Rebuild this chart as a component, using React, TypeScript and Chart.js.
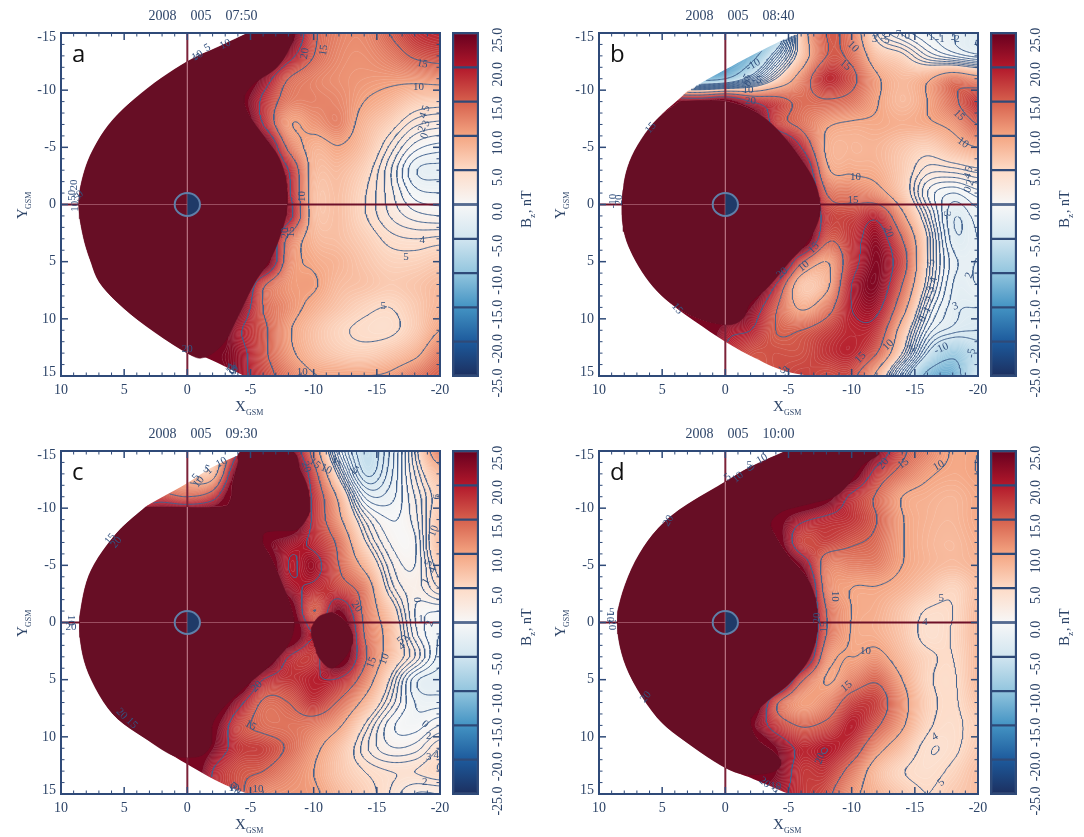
import React, { useEffect, useRef } from "react";
import { Chart, registerables } from "chart.js";
Chart.register(...registerables);

const NAVY = "#2d4468";
const FRAME = "#2f4a78";
const LINE = "#42638f";
const DARK = "rgb(103,14,37)";

// Grid of the field, columns left to right, rows top to bottom
const gridX = [10, 8, 6, 4, 2, 0, -2, -4, -6, -8, -10, -12, -14, -16, -18, -20];
const gridY = [-15, -13, -11, -9, -7, -5, -3, -1, 1, 3, 5, 7, 9, 11, 13, 15];
const contourLevels = [-20, -15, -10, -5, -4, -3, -2, -1, 0, 1, 2, 3, 4, 5, 10, 15, 20];
const colorStops = [-25, -20, -15, -10, -5, 0, 5, 10, 15, 20, 25];
const colorRamp = ["#1c2f5f", "#1d5a9c", "#4393c3", "#92c5de", "#d1e5f0", "#f7f7f7", "#fddbc7", "#f4a582", "#d6604d", "#b2182b", "#67001f"];
const barBands = [[20, 25], [15, 20], [10, 15], [5, 10], [0, 5], [-5, 0], [-10, -5], [-15, -10], [-20, -15], [-25, -20]];

const bzA = [
  [30, 30, 30, 30, 30, 30, 30, 30, 30, 27, 16, 12.5, 12, 15, 18, 19],
  [30, 30, 30, 30, 30, 30, 30, 30, 30, 22, 15, 12, 11.5, 13, 15.5, 16.5],
  [30, 30, 30, 30, 30, 30, 30, 30, 23, 15, 12.5, 11.5, 11, 10.8, 11, 11.5],
  [30, 30, 30, 30, 30, 30, 30, 27, 19, 13, 12.5, 12, 10, 8.5, 6.5, 6],
  [30, 30, 30, 30, 30, 30, 30, 30, 20, 10.5, 11, 12.3, 8.5, 6, 3.3, 2.5],
  [30, 30, 30, 30, 30, 30, 30, 30, 28, 14, 8.8, 9.8, 7.5, 3.8, 0.5, -0.5],
  [30, 30, 30, 30, 30, 30, 30, 30, 30, 20, 8.5, 8, 6, 2.3, -1.8, -2.3],
  [30, 30, 30, 30, 30, 30, 30, 30, 30, 21, 8, 7.5, 5.2, 2.5, -0.5, -1],
  [30, 30, 30, 30, 30, 30, 30, 30, 30, 22, 8.2, 7.5, 5.2, 3, 1.5, 1],
  [30, 30, 30, 30, 30, 30, 30, 30, 28, 14, 8.5, 7.6, 6.2, 4.5, 4, 4.3],
  [30, 30, 30, 30, 30, 30, 30, 30, 28, 12.5, 9.5, 8.5, 7, 5.8, 5.8, 6.5],
  [30, 30, 30, 30, 30, 30, 30, 29, 16, 11, 10.3, 8, 7.3, 6.5, 7, 8],
  [30, 30, 30, 30, 30, 30, 30, 25, 15, 11.5, 9, 7, 5.6, 5, 6.5, 8.5],
  [30, 30, 30, 30, 30, 30, 30, 21, 16, 10.5, 7.5, 5.5, 4.6, 4.5, 6.5, 10],
  [30, 30, 30, 30, 30, 30, 25, 22, 16, 11, 8, 6.5, 6, 7, 9, 13],
  [30, 30, 30, 30, 30, 30, 26, 22, 17, 13, 10.2, 10, 10, 10.5, 13, 15],
];
const bzB = [
  [-15, -15, -15, -15, -15, -15, -15, -10, 7, 15, 13, 4, 0.8, -1, -2, -3],
  [-15, -15, -15, -15, -14, -14, -12, -3, 7, 15, 14, 7.5, 5.5, 2, 0, -1.5],
  [-12, -12, -12, -12, -12, -10, -3, 5, 12, 18.5, 16, 10.5, 8, 9.5, 13, 11.5],
  [30, 30, 30, 25, 24, 26, 20, 17, 14, 14.5, 13.5, 10.2, 8, 10, 14, 18],
  [30, 30, 30, 30, 30, 30, 30, 18, 14, 10.5, 9.5, 9.5, 9, 9.5, 11, 15],
  [30, 30, 30, 30, 30, 30, 30, 30, 20, 9.5, 8.5, 8.5, 7, 6, 8, 10],
  [30, 30, 30, 30, 30, 30, 30, 30, 27, 11, 9.5, 9, 6.5, 3.5, 3.5, 4.5],
  [30, 30, 30, 30, 30, 30, 30, 30, 30, 15, 13, 11.5, 7, 1, -1, 0.5],
  [30, 30, 30, 30, 30, 30, 30, 30, 30, 18, 17, 19, 11, 3, -2.8, -1.5],
  [30, 30, 30, 30, 30, 30, 30, 30, 30, 16, 18, 22, 15, 5, -2.5, -2],
  [30, 30, 30, 30, 30, 30, 30, 30, 16, 10, 18, 23, 17, 5, -1.5, -2],
  [30, 30, 30, 30, 30, 30, 30, 20, 7.5, 9, 20, 23, 15, 4, -2, -2],
  [30, 30, 30, 30, 30, 30, 24, 15.5, 9.5, 13, 20, 21, 12, 1.5, -2.5, -3],
  [30, 30, 30, 30, 30, 22, 20, 15, 15, 17, 19, 18, 8, -1, -3.5, -4],
  [30, 30, 30, 30, 30, 20, 16, 16, 16, 18, 19, 15, 5, -5, -9, -6],
  [30, 30, 30, 30, 30, 20, 16, 16, 17, 16, 16, 9, -2, -11, -12, -5],
];
const bzC = [
  [30, 30, 30, 30, 10, 5, 5, 20, 30, 26, 13, 0, -6, -3, 4, 13],
  [30, 30, 30, 30, 10, 8, 8, 26, 30, 30, 17, 4, -5, -2.5, 3, 8],
  [30, 30, 30, 18, 17, 15, 18, 30, 30, 30, 19, 9, -1, -1.5, 2, 6],
  [30, 30, 30, 30, 30, 30, 30, 30, 30, 30, 19, 11, 3, 0, 1.5, 7],
  [30, 30, 30, 30, 30, 30, 30, 30, 25, 22, 19, 14, 5.5, 1, 0.8, 8],
  [30, 30, 30, 30, 30, 30, 30, 30, 30, 20, 21.5, 15, 9, 2.5, 1, 6],
  [30, 30, 30, 30, 30, 30, 30, 30, 30, 22, 19, 17, 13, 4, 1.5, 4],
  [30, 30, 30, 30, 30, 30, 30, 30, 30, 28, 15, 24, 14, 7, 1, 0],
  [30, 30, 30, 30, 30, 30, 30, 30, 30, 30, 20, 30, 15, 8.5, 1.5, -1],
  [30, 30, 30, 30, 30, 30, 30, 30, 30, 20, 18, 28, 16, 8, 3, -1.5],
  [30, 30, 30, 30, 30, 30, 30, 30, 20, 18, 19.5, 19.5, 13, 5, -1.5, -2.5],
  [30, 30, 30, 30, 30, 30, 30, 22, 14.5, 15, 18, 14.5, 9, 3, -1, -1.5],
  [30, 30, 30, 30, 30, 30, 26, 17, 14, 13.5, 13, 10.5, 5, 0.5, -0.5, 1],
  [30, 30, 30, 30, 30, 30, 24, 18, 17, 14.5, 11, 7.5, 3.5, 1.2, 1.5, 4],
  [30, 30, 30, 30, 30, 30, 20, 16, 15, 12.5, 10, 7, 5, 4, 4, 5],
  [30, 30, 30, 30, 30, 30, 20, 16, 12, 11, 10.5, 8, 6, 4, 2, 2],
];
const bzD = [
  [30, 30, 30, 30, 30, 30, 30, 30, 30, 30, 30, 24, 16, 12.5, 9.8, 10],
  [30, 30, 30, 30, 30, 30, 30, 30, 30, 30, 27, 18, 13.5, 10.5, 9.5, 10],
  [30, 30, 30, 30, 30, 30, 30, 30, 30, 26, 19, 14.5, 10, 9, 8.5, 9.5],
  [30, 30, 30, 30, 30, 30, 30, 26, 21, 19, 18, 15, 10.2, 8.7, 8.3, 9.5],
  [30, 30, 30, 30, 30, 30, 30, 27, 17, 17, 15.5, 14, 10.2, 8.5, 8, 9],
  [30, 30, 30, 30, 30, 30, 30, 30, 24, 13, 12.5, 12.5, 10, 8.5, 7.8, 8.5],
  [30, 30, 30, 30, 30, 30, 30, 30, 30, 13, 10, 9.8, 8.7, 7, 5.5, 7.5],
  [30, 30, 30, 30, 30, 30, 30, 30, 30, 15, 10, 9, 7, 4.8, 5, 8],
  [30, 30, 30, 30, 30, 30, 30, 30, 30, 15, 9.8, 9, 7, 4.2, 5.2, 8],
  [30, 30, 30, 30, 30, 30, 30, 30, 28, 12, 10, 11, 8, 5.5, 5, 8],
  [30, 30, 30, 30, 30, 30, 30, 30, 16, 9.8, 12.5, 14.5, 10, 5.5, 4.7, 8],
  [30, 30, 30, 30, 30, 30, 30, 16, 10.5, 12, 17, 17, 11.5, 6, 4.7, 7],
  [30, 30, 30, 30, 30, 30, 25, 18, 14.7, 16, 19.5, 15.5, 10.5, 5.5, 4.5, 6],
  [30, 30, 30, 30, 30, 30, 30, 24, 19, 20, 17.5, 11.5, 7.5, 4.2, 4.5, 6.5],
  [30, 30, 30, 30, 30, 30, 26, 24, 18, 18, 13.5, 8, 5.2, 4.3, 5.5, 7.5],
  [30, 30, 30, 30, 30, 30, 26, 22, 18, 16, 11, 8.5, 6.5, 5, 6.5, 7.5],
];

// Outer boundary of the mapped domain
const boundaryA = [[-4.8, -15], [-2.5, -13.8], [0, -12.5], [3.1, -10.2], [5.9, -7.4], [7.5, -4.7], [8.3, -2.3], [8.6, 0], [8.3, 2.5], [7.7, 4.8], [6.7, 7.2], [3.9, 10.1], [0, 13], [-1.5, 13.4], [-4.5, 15]];
const boundaryB = [[-5.7, -15], [-2.9, -13.5], [0, -11.8], [2.6, -10.2], [3.6, -9.3], [5.7, -7.1], [7.4, -4.2], [8.1, -1.3], [8.1, 1.9], [7.3, 4.5], [5.7, 7.2], [3.7, 9.2], [0, 12], [-2.3, 13.4], [-4.5, 14.5], [-6.7, 15]];
const boundaryC = [[-4.8, -15], [-2, -13.6], [0, -12.2], [2.9, -10.4], [3.3, -10.1], [5.6, -7.8], [7.6, -4.6], [8.4, -1.4], [8.5, 1.3], [7.8, 4.5], [5.9, 8], [3.1, 10.3], [0, 12.4], [-2.6, 14], [-4.8, 15]];
const boundaryD = [[-4.8, -15], [-2, -13.6], [0, -12.3], [4.3, -9.3], [6.8, -6], [8.3, -2], [8.5, 1], [7.6, 4.5], [5.4, 8.3], [2.9, 10.6], [0, 12.7], [-1.8, 13.5], [-3.1, 14.1], [-5, 15]];

// Saturated region (Bz at or above the top of the scale)
const saturatedA = [[-4.8, -15], [-8.2, -15], [-8, -13.5], [-7, -11.9], [-5.3, -10.6], [-4.5, -9.3], [-4.9, -7.8], [-6.1, -5.9], [-7.2, -4.2], [-7.8, -2.2], [-7.9, 0], [-7.6, 1.9], [-6.7, 4.5], [-5.3, 6.9], [-4, 9.8], [-2.9, 12.1], [-1.4, 13.35], [0, 13], [3.9, 10.1], [6.7, 7.2], [7.7, 4.8], [8.3, 2.5], [8.6, 0], [8.3, -2.3], [7.5, -4.7], [5.9, -7.4], [3.1, -10.2], [0, -12.5], [-2.5, -13.8], [-4.8, -15]];
const saturatedB = [[3.6, -9], [1.8, -9.1], [0, -9], [-1.8, -8.4], [-3.4, -7.3], [-4.8, -5.7], [-6.2, -3.6], [-7.1, -1.9], [-7.5, 0], [-7.3, 1.6], [-6.4, 3.4], [-5, 5.1], [-3.4, 7.2], [-2, 8.6], [-1.5, 9.8], [-0.8, 10.4], [0.2, 10.5], [1.8, 10.1], [3.7, 9.1], [5.7, 7.2], [7.3, 4.5], [8.1, 1.9], [8.1, -1.3], [7.4, -4.2], [5.7, -7.1], [3.6, -9]];
const saturatedC = [[3.3, -10.1], [1.2, -10.1], [-2.6, -10.1], [-3.4, -10.7], [-3.6, -12.2], [-4, -13.9], [-4.4, -15], [-8.2, -15], [-8.9, -13.4], [-9.5, -11.9], [-9.7, -10.1], [-9.4, -9], [-8.6, -8.1], [-7, -8], [-6.1, -7.8], [-6, -6.9], [-6.7, -5.5], [-7.5, -3.4], [-8.2, -1.4], [-8.45, 0.4], [-7.9, 2.1], [-6.4, 3.9], [-4.8, 5.4], [-2.9, 7.4], [-2, 8.9], [-1.9, 10.6], [-1.2, 11.6], [0, 11.8], [1.2, 11.6], [3.1, 10.3], [5.9, 8], [7.8, 4.5], [8.5, 1.3], [8.4, -1.4], [7.6, -4.6], [5.6, -7.8], [3.3, -10.1]];
const saturatedC2 = [[-11.45, -0.9], [-12.5, -0.1], [-13.1, 1.3], [-12.6, 2.9], [-11.45, 4], [-10.5, 3.2], [-10.1, 2.1], [-9.8, 0.7], [-10.4, -0.5], [-11.45, -0.9]];
const saturatedD = [[-4.8, -15], [-11.9, -15], [-10.8, -13.7], [-9.5, -11.8], [-8.4, -10.9], [-6.4, -10.3], [-4.5, -9.7], [-3.6, -8.7], [-4, -7.5], [-5, -5.8], [-6.4, -4], [-7.1, -2.2], [-7.3, -0.2], [-7.1, 1.8], [-6.4, 3.6], [-5, 5.4], [-3.4, 6.8], [-2.3, 8], [-2, 8.9], [-2.6, 10.3], [-4, 11.5], [-4.4, 12.4], [-3.7, 13.1], [-1.8, 13.3], [0, 12.7], [2.9, 10.6], [5.4, 8.3], [7.6, 4.5], [8.5, 1], [8.3, -2], [6.8, -6], [4.3, -9.3], [0, -12.3], [-2, -13.6], [-4.8, -15]];

// Extent of the thin line through the saturated region: [nose, tail, top, bottom]
const innerA = [8.6, -7.9, -12.5, 13];
const innerB = [8.1, -7.5, -9, 10.5];
const innerC = [8.5, -8.45, -10.1, 11.8];
const innerD = [8.5, -7.3, -12.3, 12.7];

// Contour labels: text, x, y, angle
const labelsA = [["20", 9, -1.7, -90], ["50", 9.1, -0.8, -90], ["10", 8.9, 0.15, -90], ["5", 8.7, -0.6, -40], ["0", 8.5, -0.9, -40], ["10", -18.3, -10.3, 0], ["15", -18.6, -12.3, 10], ["15", -10.8, -13.5, -80], ["20", -9.3, -13.2, -80], ["10", -9.1, -0.7, -90], ["20", -7.7, 2.5, -90], ["15", -8.2, 2.4, -90], ["5", -17.3, 4.6, 0], ["4", -18.6, 3.1, 0], ["5", -15.5, 8.9, 0], ["10", -9.1, 14.7, 0], ["20", 0, 12.65, 0], ["5", -18.9, -8.4, -70], ["4", -18.7, -7.8, -70], ["3", -18.9, -7.1, -70], ["2", -18.6, -6.6, -70], ["0", -18.8, -6, -70], ["10", -3, -14, -25], ["5", -1.6, -13.7, -30], ["10", -0.8, -13, -30], ["5", -0.7, -12.9, 50], ["15", -3.4, 14.4, 40], ["10", -3.6, 14.5, -40], ["5", -3.7, 14.6, 10], ["20", -3.5, 14.3, 80]];
const labelsB = [["10", -1.8, -10, 0], ["20", -2, -9, 0], ["-10", -2.2, -12.2, -30], ["-5", -1.7, -11, -60], ["0", -1.8, -10.6, -50], ["5", -1.6, -10.8, 20], ["10", -10.1, -13.8, 45], ["15", -9.5, -12.2, 40], ["15", -18.5, -7.8, 45], ["10", -18.8, -5.4, 35], ["15", 5.9, -6.7, -50], ["10", -10.3, -2.4, 0], ["15", -10.1, -0.4, 0], ["20", -12.9, 2.4, 70], ["15", -7, 3.8, -45], ["10", -6.2, 5.4, -40], ["20", -4.5, 6, -40], ["15", 3.8, 9.1, 50], ["10", -12.9, 12.3, -45], ["15", -10.7, 13.4, -45], ["3", -17.5, 0.8, 90], ["5", -16.3, 5, -80], ["4", -16.5, 6.6, -80], ["3", -16.3, 7.4, -70], ["2", -16.2, 8.3, -70], ["1", -16, 9.2, -60], ["0", -15.6, 10, -60], ["2", -19.3, 6.2, -70], ["3", -18.2, 8.9, -20], ["-10", -17.1, 12.6, -25], ["-2", -14.7, 12.7, -60], ["-5", -19.5, 13, -80], ["3", -11.8, -14.5, 0], ["3", -12.5, -14.7, 0], ["5", -12.8, -14.4, 0], ["7", -13.7, -14.9, 0], ["0", -14.4, -14.7, 0], ["1", -16.3, -14.6, 0], ["-1", -17, -14.5, 0], ["-2", -18.2, -14.5, 0], ["5", -19.3, -3.1, -70], ["4", -19.2, -2.5, -70], ["2", -19.4, -1.9, -70], ["0", -19.2, -1.3, -70], ["-5", -4.5, 14.4, 40], ["5", -4.9, 14.7, 10], ["-10", 8.9, -0.3, -90], ["20", 8.4, -0.4, -90], ["-5", -2.5, -10.9, 0]];
const labelsC = [["5", -0.7, -12.7, -50], ["10", -0.9, -12.3, -50], ["1", -1.7, -13.3, -40], ["5", -1.5, -13.4, 20], ["10", -2.7, -14, -30], ["15", 6.1, -7.3, -50], ["20", 5.6, -7, -50], ["20", -9.4, -13.6, 70], ["15", -10.1, -13.9, 40], ["10", -11, -13.4, 25], ["20", -13.4, -1.4, 55], ["15", -14.6, 3.5, -70], ["10", -15.6, 3.2, -70], ["0", -18.2, -2, 90], ["1", -18.5, -0.3, 0], ["2", -19.2, 0.1, -70], ["5", -16.9, 1.6, -40], ["4", -17, 2.1, -40], ["3", -17.3, 1.4, -60], ["20", -5.5, 5.6, -45], ["15", -5, 9, 30], ["20", 5.2, 8, 45], ["15", 4.4, 8.8, 45], ["10", -5.6, 14.6, 0], ["5", -3.6, 14.3, 40], ["10", -3.7, 14.5, 0], ["20", -3.8, 14.6, 50], ["2", -18.8, 14, 0], ["0", -18.8, 8.9, 40], ["2", -19.1, 9.9, 0], ["3", -19.1, 11.8, 0], ["4", -19.7, 11.6, 0], ["10", -19.5, -8, -70], ["6", -19.8, -11, -90], ["5", -19.1, -5.2, -70], ["4", -19.4, -4.6, -70], ["1", -18.9, -3.6, -60], ["10", 9.2, -0.2, 90], ["20", 9.2, 0.4, 0], ["5", -11.9, -14, -40], ["3", -11.6, -14.2, 20], ["1", -13.1, -13.2, -40], ["5", -13.3, -13.3, 30]];
const labelsD = [["20", 4.5, -8.9, -60], ["20", -12.5, -13.9, -50], ["15", -14.1, -13.9, -35], ["10", -16.9, -13.7, -30], ["10", -8.7, -2.3, 90], ["5", -17.1, -2.1, 0], ["4", -15.8, 0, 0], ["10", -11.1, 2.5, 0], ["15", -9.6, 5.6, -40], ["20", -7.5, 11.9, -70], ["4", -16.6, 10, -30], ["5", -17.1, 14, -40], ["20", 6.3, 6.5, -50], ["20", -7.3, -0.4, -90], ["15", -7.8, 0.4, -90], ["10", 9.1, -0.5, 90], ["20", 9, 0.2, 90], ["5", 9, -0.9, 0], ["5", -0.2, -12.7, -40], ["10", -1, -12.7, -40], ["10", -2.9, -14.3, -30], ["5", -1.9, -13.8, 0], ["0", -2, -13.5, 50], ["20", -3.1, 14, 40], ["10", -4, 14.3, 0], ["5", -4, 14.6, 60]];

const titleTexts = ["2008    005    07:50", "2008    005    08:40", "2008    005    09:30", "2008    005    10:00"];
const panelLetters = ["a", "b", "c", "d"];
const fields = [bzA, bzB, bzC, bzD];
const boundaries = [boundaryA, boundaryB, boundaryC, boundaryD];
const saturated = [[saturatedA], [saturatedB], [saturatedC, saturatedC2], [saturatedD]];
const inners = [innerA, innerB, innerC, innerD];
const labelSets = [labelsA, labelsB, labelsC, labelsD];

function hexRgb(h: string) {
  return [parseInt(h.slice(1, 3), 16), parseInt(h.slice(3, 5), 16), parseInt(h.slice(5, 7), 16)];
}
const rampRgb = colorRamp.map(hexRgb);
function colorAt(v: number) {
  const c = Math.max(colorStops[0], Math.min(colorStops[10], v));
  const t = (c + 25) / 5;
  const i = Math.min(9, Math.floor(t));
  const f = t - i;
  return rampRgb[i].map((a, k) => a + (rampRgb[i + 1][k] - a) * f);
}
function sampler(grid: number[][]) {
  const nx = gridX.length, ny = gridY.length;
  const cr = (a: number, b: number, c: number, d: number, t: number) =>
    b + 0.5 * t * (c - a + t * (2 * a - 5 * b + 4 * c - d + t * (3 * (b - c) + d - a)));
  return (x: number, y: number) => {
    const fx = Math.max(0, Math.min(nx - 1.0001, (gridX[0] - x) / (gridX[0] - gridX[1])));
    const fy = Math.max(0, Math.min(ny - 1.0001, (y - gridY[0]) / (gridY[1] - gridY[0])));
    const i = Math.floor(fx), j = Math.floor(fy), tx = fx - i, ty = fy - j;
    const rows: number[] = [];
    for (let q = -1; q <= 2; q++) {
      const r = grid[Math.max(0, Math.min(ny - 1, j + q))];
      const g = (p: number) => r[Math.max(0, Math.min(nx - 1, p))];
      rows.push(cr(g(i - 1), g(i), g(i + 1), g(i + 2), tx));
    }
    return cr(rows[0], rows[1], rows[2], rows[3], ty);
  };
}
function inside(poly: number[][], x: number, y: number) {
  let c = false;
  for (let i = 0, j = poly.length - 1; i < poly.length; j = i++) {
    const [xi, yi] = poly[i], [xj, yj] = poly[j];
    if (yi > y !== yj > y && x < ((xj - xi) * (y - yi)) / (yj - yi) + xi) c = !c;
  }
  return c;
}
// Rounds a traced outline for clipping
function rounded(p: number[][]) {
  const out: number[][] = [];
  for (let i = 0; i < p.length - 1; i++) {
    const a = p[Math.max(0, i - 1)], b = p[i], c = p[i + 1], d = p[Math.min(p.length - 1, i + 2)];
    for (let s = 0; s < 6; s++) {
      const t = s / 6;
      const q = (k: number) =>
        b[k] + 0.5 * t * (c[k] - a[k] + t * (2 * a[k] - 5 * b[k] + 4 * c[k] - d[k] + t * (3 * (b[k] - c[k]) + d[k] - a[k])));
      out.push([q(0), q(1)]);
    }
  }
  out.push(p[p.length - 1]);
  return out;
}
// The outer boundary is open on the tail side; close it along the right of the frame
function closedBoundary(b: number[][]) {
  return [...rounded(b), [-21, 16], [-21, -16]];
}
function contoursOf(grid: number[][], boundary: number[][]) {
  const f = sampler(grid);
  const poly = closedBoundary(boundary);
  const step = 0.1;
  const N = 301;
  const vals = new Float32Array(N * N);
  for (let j = 0; j < N; j++)
    for (let i = 0; i < N; i++) {
      const x = -20 + i * step, y = -15 + j * step;
      vals[i + j * N] = inside(poly, x, y) ? f(x, y) : NaN;
    }
  return contourLevels.map((lev) => {
    const pts = new Map<number, { x: number; y: number }>();
    const adj = new Map<number, number[]>();
    const link = (a: number, b: number) => {
      if (!adj.has(a)) adj.set(a, []);
      if (!adj.has(b)) adj.set(b, []);
      adj.get(a)!.push(b);
      adj.get(b)!.push(a);
    };
    for (let j = 0; j < N - 1; j++)
      for (let i = 0; i < N - 1; i++) {
        const a = vals[i + j * N], b = vals[i + 1 + j * N], c = vals[i + 1 + (j + 1) * N], d = vals[i + (j + 1) * N];
        if (a !== a || b !== b || c !== c || d !== d) continue;
        const cross: number[] = [];
        const add = (id: number, va: number, vb: number, xa: number, ya: number, xb: number, yb: number) => {
          if (va >= lev !== vb >= lev) {
            const t = (lev - va) / (vb - va);
            if (!pts.has(id)) pts.set(id, { x: -20 + (xa + (xb - xa) * t) * step, y: -15 + (ya + (yb - ya) * t) * step });
            cross.push(id);
          }
        };
        add((i + j * N) * 2, a, b, i, j, i + 1, j);
        add((i + 1 + j * N) * 2 + 1, b, c, i + 1, j, i + 1, j + 1);
        add((i + (j + 1) * N) * 2, d, c, i, j + 1, i + 1, j + 1);
        add((i + j * N) * 2 + 1, a, d, i, j, i, j + 1);
        if (cross.length === 2) link(cross[0], cross[1]);
        else if (cross.length === 4) { link(cross[0], cross[1]); link(cross[2], cross[3]); }
      }
    const seen = new Set<number>();
    const out: { x: number; y: number }[] = [];
    const walk = (start: number) => {
      let cur = start;
      seen.add(cur);
      out.push(pts.get(cur)!);
      for (;;) {
        const nxt = adj.get(cur)!.find((n) => !seen.has(n));
        if (nxt === undefined) break;
        seen.add(nxt);
        out.push(pts.get(nxt)!);
        cur = nxt;
      }
      out.push({ x: NaN, y: NaN });
    };
    adj.forEach((n, k) => { if (n.length === 1 && !seen.has(k)) walk(k); });
    adj.forEach((_, k) => { if (!seen.has(k)) walk(k); });
    return out;
  });
}
const toPts = (a: number[][]) => a.map(([x, y]) => ({ x, y }));

function fieldPlugin(idx: number) {
  const f = sampler(fields[idx]);
  return {
    id: "field" + idx,
    beforeDatasetsDraw(chart: any) {
      const { ctx, chartArea: ar, scales } = chart;
      const w = Math.round(ar.right - ar.left), h = Math.round(ar.bottom - ar.top);
      const off = document.createElement("canvas");
      off.width = w; off.height = h;
      const oc = off.getContext("2d")!;
      const img = oc.createImageData(w, h);
      const v = new Float32Array((w + 1) * (h + 1));
      const sat = saturated[idx].map(rounded);
      for (let j = 0; j <= h; j++) {
        const y = scales.y.getValueForPixel(ar.top + j + 0.5);
        for (let i = 0; i <= w; i++) {
          const x = scales.x.getValueForPixel(ar.left + i + 0.5);
          const raw = f(x, y);
          // Only the traced saturated region reaches the top colour
          v[i + j * (w + 1)] = raw > 23.8 && !sat.some((s) => inside(s, x, y)) ? 23.8 : raw;
        }
      }
      const fine = 0.25;
      for (let j = 0; j < h; j++)
        for (let i = 0; i < w; i++) {
          const val = v[i + j * (w + 1)];
          const c = colorAt(val);
          const gx = v[i + 1 + j * (w + 1)] - val, gy = v[i + (j + 1) * (w + 1)] - val;
          const g = Math.hypot(gx, gy) / fine + 1e-4;
          const q = val / fine;
          const dist = Math.abs(q - Math.round(q)) / g;
          const a = val < 23.8 ? 0.14 * Math.max(0, 1 - dist * 1.4) : 0;
          const k = (i + j * w) * 4;
          img.data[k] = c[0] + (255 - c[0]) * a;
          img.data[k + 1] = c[1] + (255 - c[1]) * a;
          img.data[k + 2] = c[2] + (255 - c[2]) * a;
          img.data[k + 3] = 255;
        }
      oc.putImageData(img, 0, 0);
      ctx.save();
      ctx.beginPath();
      const poly = closedBoundary(boundaries[idx]);
      poly.forEach(([x, y], n) => {
        const px = scales.x.getPixelForValue(x), py = scales.y.getPixelForValue(y);
        if (n === 0) ctx.moveTo(px, py); else ctx.lineTo(px, py);
      });
      ctx.closePath();
      ctx.clip();
      ctx.drawImage(off, ar.left, ar.top);
      ctx.restore();
    },
  };
}

function overlayPlugin(idx: number) {
  return {
    id: "overlay" + idx,
    afterDatasetsDraw(chart: any) {
      const { ctx, chartArea: ar, scales } = chart;
      const { x: sx, y: sy } = scales;
      // Earth
      const cx = sx.getPixelForValue(0), cy = sy.getPixelForValue(0);
      const rx = Math.abs(sx.getPixelForValue(1) - cx), ry = Math.abs(sy.getPixelForValue(1) - cy);
      ctx.save();
      ctx.fillStyle = "#1f3a68";
      ctx.beginPath();
      ctx.ellipse(cx, cy, rx, ry, 0, -Math.PI / 2, Math.PI / 2);
      ctx.closePath();
      ctx.fill();
      ctx.strokeStyle = "#5f7fa8";
      ctx.lineWidth = 2;
      ctx.beginPath();
      ctx.ellipse(cx, cy, rx, ry, 0, 0, Math.PI * 2);
      ctx.stroke();
      // contour labels
      ctx.fillStyle = "#34527f";
      ctx.font = "11px 'Liberation Serif'";
      ctx.textAlign = "center";
      ctx.textBaseline = "middle";
      labelSets[idx].forEach(([t, x, y, rot]: any) => {
        ctx.save();
        ctx.translate(sx.getPixelForValue(x), sy.getPixelForValue(y));
        ctx.rotate((rot * Math.PI) / 180);
        ctx.fillText(t, 0, 0);
        ctx.restore();
      });
      // frame and ticks
      ctx.strokeStyle = FRAME;
      const mark = (x0: number, y0: number, x1: number, y1: number, w: number) => {
        ctx.lineWidth = w;
        ctx.beginPath();
        ctx.moveTo(x0, y0);
        ctx.lineTo(x1, y1);
        ctx.stroke();
      };
      sx.ticks.forEach((t: any) => {
        const p = sx.getPixelForValue(t.value);
        const major = t.value % 5 === 0;
        const l = major ? 7 : 3.5;
        mark(p, ar.bottom, p, ar.bottom - l, major ? 1.5 : 1);
        mark(p, ar.top, p, ar.top + l, major ? 1.5 : 1);
      });
      sy.ticks.forEach((t: any) => {
        const p = sy.getPixelForValue(t.value);
        const major = t.value % 5 === 0;
        const l = major ? 7 : 3.5;
        mark(ar.left, p, ar.left + l, p, major ? 1.5 : 1);
        mark(ar.right, p, ar.right - l, p, major ? 1.5 : 1);
      });
      ctx.lineWidth = 2;
      ctx.strokeRect(ar.left, ar.top, ar.right - ar.left, ar.bottom - ar.top);
      // shifted end labels of the y axis
      ctx.fillStyle = NAVY;
      ctx.font = "14px 'Liberation Serif'";
      ctx.textAlign = "right";
      ctx.fillText("-15", ar.left - 5, ar.top + 4);
      ctx.fillText("15", ar.left - 5, ar.bottom - 4);
      // title
      ctx.textAlign = "center";
      ctx.fillText(titleTexts[idx], ar.left + (idx % 2 ? 141 : 142), ar.top - 17);
      // axis titles
      ctx.textAlign = "left";
      ctx.textBaseline = "alphabetic";
      ctx.font = "15px 'Liberation Serif'";
      ctx.fillText("X", ar.left + 174, ar.bottom + 35);
      ctx.font = "8px 'Liberation Serif'";
      ctx.fillText("GSM", ar.left + 185, ar.bottom + 39);
      ctx.save();
      ctx.translate(ar.left - 34, ar.top + 186);
      ctx.rotate(-Math.PI / 2);
      ctx.font = "15px 'Liberation Serif'";
      ctx.fillText("Y", 0, 0);
      ctx.font = "8px 'Liberation Serif'";
      ctx.fillText("GSM", 10, 4);
      ctx.restore();
      // panel letter
      ctx.fillStyle = "#111";
      ctx.font = "24px 'Open Sans'";
      ctx.fillText(panelLetters[idx], ar.left + 11, ar.top + 29);
      ctx.restore();
    },
  };
}

function makeMain(canvas: HTMLCanvasElement, idx: number) {
  const levelSets = contoursOf(fields[idx], boundaries[idx]);
  const inner = inners[idx];
  const thin = "rgba(196,130,146,0.55)";
  const datasets: any[] = [
    { label: "inner noon", data: toPts([[inner[0], 0], [inner[1], 0]]), borderColor: thin, borderWidth: 1, order: 0 },
    { label: "inner meridian", data: toPts([[0, inner[2]], [0, inner[3]]]), borderColor: thin, borderWidth: 1, order: 0 },
    ...saturated[idx].map((s, n) => ({
      label: "saturated " + n,
      data: toPts(rounded(s)),
      borderColor: DARK,
      backgroundColor: DARK,
      borderWidth: 0.5,
      fill: "shape",
      order: 1,
    })),
    { label: "meridian", data: toPts([[0, -15], [0, 15]]), borderColor: "#7d2239", borderWidth: 2, order: 2 },
    { label: "noon-midnight", data: toPts([[10, 0], [-20, 0]]), borderColor: "#6d1029", borderWidth: 2, order: 2 },
    ...levelSets.map((pts, n) => ({
      label: "Bz " + contourLevels[n],
      data: pts,
      borderColor: LINE,
      borderWidth: 1,
      borderJoinStyle: "round",
      spanGaps: false,
      order: 3,
    })),
  ];
  return new Chart(canvas, {
    type: "scatter",
    data: { datasets: datasets.map((d) => ({ showLine: true, pointRadius: 0, ...d })) },
    options: {
      responsive: false,
      animation: false,
      layout: { padding: { left: 0, right: 30, top: 33, bottom: 0 } },
      plugins: { legend: { display: false }, tooltip: { enabled: false } },
      events: [],
      scales: {
        x: {
          type: "linear", min: -20, max: 10, reverse: true,
          afterFit: (s: any) => { s.height = 44; s.paddingLeft = 0; s.paddingRight = 0; },
          grid: { display: false, drawTicks: false },
          border: { display: false },
          ticks: {
            stepSize: 1, autoSkip: false, maxRotation: 0, padding: 6, color: NAVY,
            font: { family: "'Liberation Serif'", size: 14 },
            callback: (v: any) => (v % 5 === 0 ? String(v) : ""),
          },
        },
        y: {
          type: "linear", min: -15, max: 15, reverse: true,
          afterFit: (s: any) => { s.width = 61; s.paddingTop = 0; s.paddingBottom = 0; },
          grid: { display: false, drawTicks: false },
          border: { display: false },
          ticks: {
            stepSize: 1, autoSkip: false, padding: 5, color: NAVY,
            font: { family: "'Liberation Serif'", size: 14 },
            callback: (v: any) => (v % 5 === 0 && Math.abs(v) < 15 ? String(v) : ""),
          },
        },
      },
    },
    plugins: [fieldPlugin(idx), overlayPlugin(idx)],
  } as any);
}

function makeBar(canvas: HTMLCanvasElement) {
  const barText = {
    id: "barText",
    afterDraw(chart: any) {
      const { ctx, chartArea: ar, scales } = chart;
      ctx.save();
      ctx.fillStyle = NAVY;
      ctx.font = "14px 'Liberation Serif'";
      ctx.textAlign = "center";
      ctx.textBaseline = "middle";
      scales.y.ticks.forEach((t: any) => {
        ctx.save();
        ctx.translate(ar.right + 20, scales.y.getPixelForValue(t.value) + 7);
        ctx.rotate(-Math.PI / 2);
        ctx.fillText(t.value.toFixed(1), 0, 0);
        ctx.restore();
      });
      ctx.strokeStyle = FRAME;
      ctx.lineWidth = 2;
      ctx.strokeRect(ar.left, ar.top, ar.right - ar.left, ar.bottom - ar.top);
      ctx.translate(ar.right + 53, ar.top + 195);
      ctx.rotate(-Math.PI / 2);
      ctx.textAlign = "left";
      ctx.textBaseline = "alphabetic";
      ctx.font = "15px 'Liberation Serif'";
      ctx.fillText("B", 0, 0);
      ctx.font = "9px 'Liberation Serif'";
      ctx.fillText("z", 10, 4);
      ctx.font = "14px 'Liberation Serif'";
      ctx.fillText(", nT", 15, 0);
      ctx.restore();
    },
  };
  const chart = new Chart(canvas, {
    type: "bar",
    data: {
      labels: ["Bz"],
      datasets: barBands.map(([lo, hi]) => ({
        label: lo + " to " + hi,
        data: [[lo, hi]],
        grouped: false,
        barPercentage: 1,
        categoryPercentage: 1,
        borderColor: FRAME,
        borderWidth: 1.5,
        borderSkipped: false,
        backgroundColor: (c: any) => {
          const s = c.chart.scales.y;
          const a = s ? s.getPixelForValue(hi) : NaN, b = s ? s.getPixelForValue(lo) : NaN;
          if (!Number.isFinite(a) || !Number.isFinite(b)) return "#ccc";
          const g = c.chart.ctx.createLinearGradient(0, a, 0, b);
          const mk = (v: number) => { const r = colorAt(v); return `rgb(${r[0]},${r[1]},${r[2]})`; };
          g.addColorStop(0, mk(hi));
          g.addColorStop(1, mk(lo));
          return g;
        },
      })),
    },
    options: {
      responsive: false,
      animation: false,
      events: [],
      layout: { padding: { left: 5, right: 62, top: 33, bottom: 44 } },
      plugins: { legend: { display: false }, tooltip: { enabled: false } },
      scales: {
        x: { display: false },
        y: {
          type: "linear", min: -25, max: 25,
          afterFit: (s: any) => { s.width = 0; },
          grid: { display: false, drawTicks: false },
          border: { display: false },
          ticks: { display: false, stepSize: 5 },
        },
      },
    },
    plugins: [barText],
  } as any);
  chart.update();
  return chart;
}

const origins = [[0, 0], [538, 0], [0, 418], [538, 418]];

export default function App() {
  const mains = useRef<(HTMLCanvasElement | null)[]>([]);
  const bars = useRef<(HTMLCanvasElement | null)[]>([]);
  useEffect(() => {
    const charts = origins.flatMap((_, i) => [makeMain(mains.current[i]!, i), makeBar(bars.current[i]!)]);
    return () => charts.forEach((c) => c.destroy());
  }, []);
  return (
    <div style={{ position: "absolute", left: 0, top: 0, width: 1084, height: 837, overflow: "hidden", background: "#fff" }}>
      {origins.map(([ox, oy], i) => (
        <React.Fragment key={i}>
          <canvas ref={(e) => { mains.current[i] = e; }} width={470} height={420} style={{ position: "absolute", left: ox, top: oy }} />
          <canvas ref={(e) => { bars.current[i] = e; }} width={92} height={420} style={{ position: "absolute", left: ox + 448, top: oy }} />
        </React.Fragment>
      ))}
    </div>
  );
}
